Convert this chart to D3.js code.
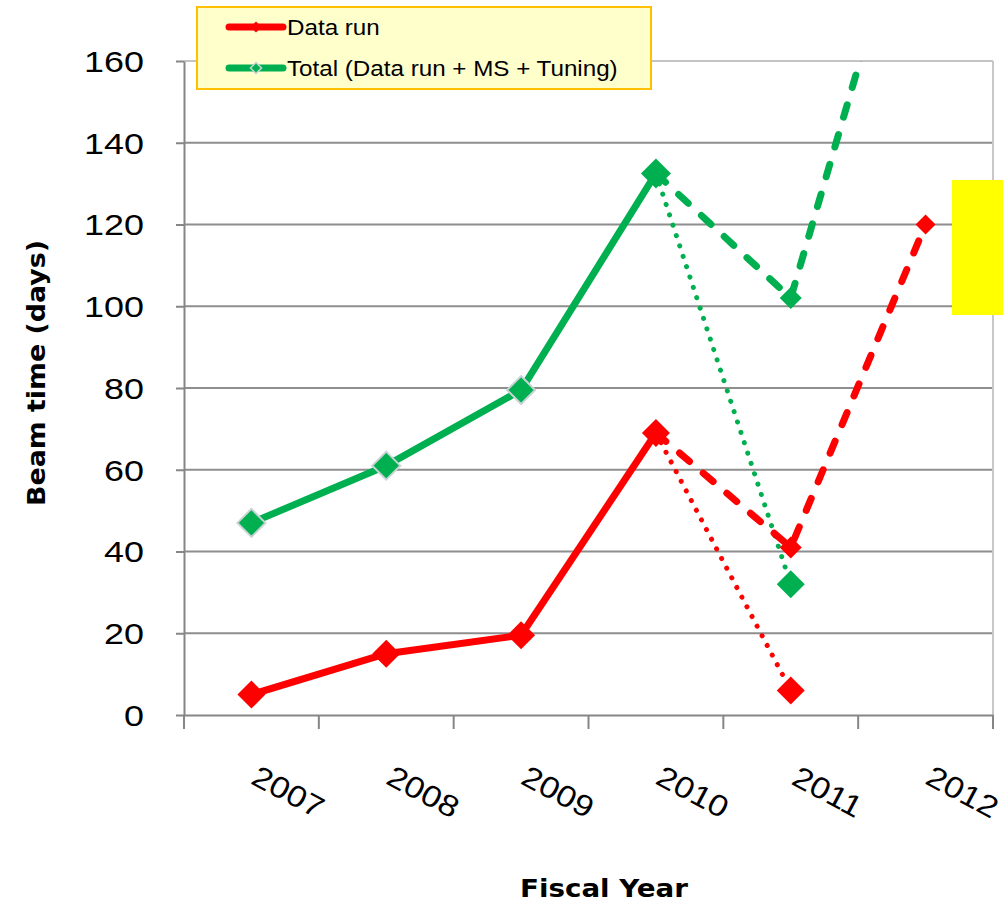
<!DOCTYPE html>
<html>
<head>
<meta charset="utf-8">
<script src="https://cdn.jsdelivr.net/npm/d3@7"></script>
<style>
  html, body { margin: 0; padding: 0; background: #fff; }
  svg { display: block; }
</style>
</head>
<body>
<svg id="chart" width="1003" height="904"></svg>
<script>
// Fiscal years on the category axis
const years = ["2007", "2008", "2009", "2010", "2011", "2012"];
const yTicks = [0, 20, 40, 60, 80, 100, 120, 140, 160];

// Data run (days): achieved, planned, and actual 2011 outcome
const dataRunActual = [["2007", 5], ["2008", 15], ["2009", 19.5], ["2010", 69]];
const dataRunPlan = [["2010", 69], ["2011", 41], ["2012", 120]];
const dataRunShort = [["2010", 69], ["2011", 6]];

// Total beam time (Data run + MS + Tuning)
const totalActual = [["2007", 47], ["2008", 61], ["2009", 79.5], ["2010", 132.5]];
const totalPlan = [["2010", 132.5], ["2011", 102], ["2012", 215]];
const totalShort = [["2010", 132.5], ["2011", 32]];

const RED = "#ff0000";
const GREEN = "#00b050";

const svg = d3.select("#chart");
const plot = { left: 184, right: 993, top: 61, bottom: 715 };

const x = d3.scaleBand().domain(years).range([plot.left, plot.right]).paddingInner(0).paddingOuter(0);
const y = d3.scaleLinear().domain([0, 160]).range([plot.bottom, plot.top]);
const cx = d => x(d) + x.bandwidth() / 2;

// clip region for the series
svg.append("defs").append("clipPath").attr("id", "plotClip")
  .append("rect")
  .attr("x", plot.left).attr("y", plot.top)
  .attr("width", plot.right - plot.left).attr("height", plot.bottom - plot.top);

// horizontal gridlines
svg.append("g").selectAll("line").data(yTicks.filter(t => t > 0)).join("line")
  .attr("x1", plot.left).attr("x2", plot.right)
  .attr("y1", d => y(d)).attr("y2", d => y(d))
  .attr("stroke", d => d === 160 ? "#c4c4c4" : "#8e8e8e")
  .attr("stroke-width", 2);

// right border of the plot area
svg.append("line")
  .attr("x1", plot.right).attr("x2", plot.right)
  .attr("y1", plot.top).attr("y2", plot.bottom)
  .attr("stroke", "#c8c8c8").attr("stroke-width", 2);

// y axis
const yAxis = svg.append("g")
  .attr("transform", `translate(${plot.left},0)`)
  .call(d3.axisLeft(y).tickValues(yTicks).tickSize(8).tickSizeOuter(0).tickPadding(0));
yAxis.select(".domain").attr("stroke", "#868686").attr("stroke-width", 2);
yAxis.selectAll(".tick line").attr("stroke", "#868686").attr("stroke-width", 2);
const ySX = 1.24;
yAxis.selectAll(".tick text")
  .attr("font-family", "'Liberation Sans', Arial, sans-serif")
  .attr("font-size", 29)
  .attr("fill", "#000")
  .attr("x", -40 / ySX)
  .attr("dy", "0.36em")
  .attr("transform", `scale(${ySX},1)`);

// x axis: line + labels from the band scale
const xAxis = svg.append("g")
  .attr("transform", `translate(0,${plot.bottom})`)
  .call(d3.axisBottom(x).tickSize(0).tickSizeOuter(0).tickPadding(0));
xAxis.select(".domain").attr("stroke", "#868686").attr("stroke-width", 2);
xAxis.selectAll(".tick text")
  .attr("font-family", "'Liberation Sans', Arial, sans-serif")
  .attr("font-size", 30)
  .attr("fill", "#000")
  .attr("y", 0).attr("dy", 0)
  .attr("text-anchor", "middle")
  .attr("transform", "translate(32,86) rotate(28) scale(1.15,1)");

// x tick marks at category boundaries
const bounds = years.map(d => x(d)).concat([x(years[years.length - 1]) + x.bandwidth()]);
svg.append("g").selectAll("line").data(bounds).join("line")
  .attr("x1", d => d).attr("x2", d => d)
  .attr("y1", plot.bottom).attr("y2", plot.bottom + 14)
  .attr("stroke", "#868686").attr("stroke-width", 2);

// series
const line = d3.line().x(d => cx(d[0])).y(d => y(d[1]));
const series = svg.append("g").attr("clip-path", "url(#plotClip)");

function drawLine(data, color, style) {
  const p = series.append("path").datum(data)
    .attr("d", line).attr("fill", "none").attr("stroke", color)
    .attr("stroke-linejoin", "round");
  if (style === "solid") p.attr("stroke-width", 7).attr("stroke-linecap", "round");
  if (style === "dash") p.attr("stroke-width", 7).attr("stroke-linecap", "round").attr("stroke-dasharray", "13,18");
  if (style === "dot") p.attr("stroke-width", 5).attr("stroke-linecap", "round").attr("stroke-dasharray", "0.1,10.8");
}

drawLine(dataRunShort, RED, "dot");
drawLine(totalShort, GREEN, "dot");
drawLine(dataRunActual, RED, "solid");
drawLine(totalActual, GREEN, "solid");
drawLine(dataRunPlan, RED, "dash");
drawLine(totalPlan, GREEN, "dash");

const diamond = (r) => `M0,${-r}L${r},0L0,${r}L${-r},0Z`;
function drawMarkers(data, color, r, outline) {
  series.append("g").selectAll("path").data(data).join("path")
    .attr("d", diamond(r))
    .attr("transform", d => `translate(${cx(d[0])},${y(d[1])})`)
    .attr("fill", color)
    .attr("stroke", outline || "none")
    .attr("stroke-width", outline ? 2 : 0);
}

drawMarkers(dataRunActual, RED, 14);
drawMarkers(totalActual.slice(0, 3), GREEN, 14, "#c9d3d6");
drawMarkers(totalActual.slice(3), GREEN, 15);
drawMarkers(dataRunShort.slice(1), RED, 14);
drawMarkers(totalShort.slice(1), GREEN, 14);
drawMarkers(dataRunPlan.slice(1, 2), RED, 11);
drawMarkers(totalPlan.slice(1, 2), GREEN, 11);
drawMarkers(dataRunPlan.slice(2), RED, 10);

// highlight block on the right edge
svg.append("rect")
  .attr("x", 952).attr("y", 180).attr("width", 60).attr("height", 135)
  .attr("fill", "#ffff00");

// legend
const legend = svg.append("g");
legend.append("rect")
  .attr("x", 197).attr("y", 7).attr("width", 454).attr("height", 82)
  .attr("fill", "#ffffcc").attr("stroke", "#ffc000").attr("stroke-width", 2);
const legendItems = [
  { label: "Data run", color: RED, outline: null },
  { label: "Total (Data run + MS + Tuning)", color: GREEN, outline: "#c9d3d6" }
];
legendItems.forEach((it, i) => {
  const ly = 27 + i * 41;
  legend.append("line")
    .attr("x1", 229).attr("x2", 283).attr("y1", ly).attr("y2", ly)
    .attr("stroke", it.color).attr("stroke-width", 7).attr("stroke-linecap", "round");
  legend.append("path")
    .attr("d", diamond(5.5))
    .attr("transform", `translate(256,${ly})`)
    .attr("fill", it.color)
    .attr("stroke", it.outline || "none").attr("stroke-width", 1.5);
  legend.append("text")
    .attr("transform", `translate(287,${ly + 8}) scale(1.1,1)`)
    .attr("font-family", "'Liberation Sans', Arial, sans-serif")
    .attr("font-size", 22)
    .attr("fill", "#000")
    .text(it.label);
});

// axis titles
svg.append("text")
  .attr("x", 604).attr("y", 897)
  .attr("text-anchor", "middle")
  .attr("font-family", "'DejaVu Sans', Verdana, sans-serif")
  .attr("font-weight", "bold").attr("font-size", 25)
  .attr("textLength", 168).attr("lengthAdjust", "spacingAndGlyphs")
  .text("Fiscal Year");

svg.append("text")
  .attr("transform", "translate(45,373) rotate(-90)")
  .attr("text-anchor", "middle")
  .attr("font-family", "'DejaVu Sans', Verdana, sans-serif")
  .attr("font-weight", "bold").attr("font-size", 25)
  .attr("textLength", 266).attr("lengthAdjust", "spacingAndGlyphs")
  .text("Beam time (days)");
</script>
</body>
</html>
